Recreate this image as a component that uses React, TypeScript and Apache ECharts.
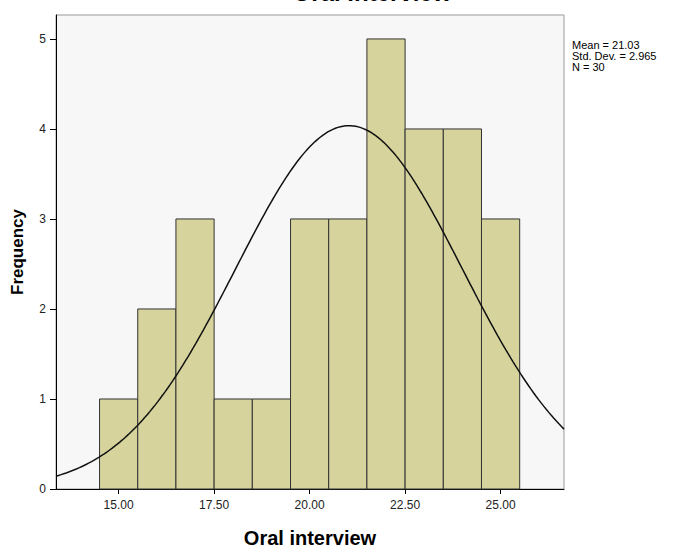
import React, { useEffect, useRef } from "react";
import * as echarts from "echarts";

const binStarts = [14.5, 15.5, 16.5, 17.5, 18.5, 19.5, 20.5, 21.5, 22.5, 23.5, 24.5];
const counts = [1, 2, 3, 1, 1, 3, 3, 5, 4, 4, 3];
const binWidth = 1;
const mean = 21.03;
const stdDev = 2.965;
const n = 30;
const xTicks = [15, 17.5, 20, 22.5, 25];
const yTicks = [0, 1, 2, 3, 4, 5];
const xMin = 13.36;
const xMax = 26.66;
const yMax = 5.266;

export default function App() {
  const ref = useRef<HTMLDivElement>(null);
  useEffect(() => {
    document.body.style.margin = "0";
    const chart = echarts.init(ref.current!, null, { renderer: "svg" });
    const barData = binStarts.map((s, i) => [s, s + binWidth, counts[i]]);
    const curve: number[][] = [];
    const steps = 200;
    for (let i = 0; i <= steps; i++) {
      const x = xMin + ((xMax - xMin) * i) / steps;
      const y =
        (n * binWidth) / (stdDev * Math.sqrt(2 * Math.PI)) *
        Math.exp(-((x - mean) ** 2) / (2 * stdDev * stdDev));
      curve.push([x, y]);
    }
    const font = "Liberation Sans";
    chart.setOption({
      animation: false,
      grid: {
        left: 56,
        right: 111,
        top: 15,
        bottom: 61,
        containLabel: false,
        outerBoundsMode: "none",
        show: true,
        backgroundColor: "#F7F7F7",
        borderColor: "#999999",
        borderWidth: 1,
      },
      xAxis: {
        type: "value",
        min: xMin,
        max: xMax,
        splitLine: { show: false },
        axisLine: { show: true, onZero: false, lineStyle: { color: "#000", width: 1 } },
        axisTick: { show: true, length: 5, lineStyle: { color: "#000" }, customValues: xTicks },
        axisLabel: {
          customValues: xTicks,
          formatter: (v: number) => v.toFixed(2),
          color: "#222",
          fontFamily: font,
          fontSize: 12,
          margin: 10,
        },
        name: "Oral interview",
        nameLocation: "middle",
        nameGap: 39,
        nameTextStyle: { fontFamily: font, fontSize: 20, fontWeight: "bold", color: "#000" },
      },
      yAxis: {
        type: "value",
        min: 0,
        max: yMax,
        splitLine: { show: false },
        axisLine: { show: true, lineStyle: { color: "#000", width: 1 } },
        axisTick: { show: true, length: 6, lineStyle: { color: "#000" }, customValues: yTicks },
        axisLabel: {
          customValues: yTicks,
          color: "#222",
          fontFamily: font,
          fontSize: 12,
          margin: 10,
        },
        name: "Frequency",
        nameLocation: "middle",
        nameGap: 30,
        nameTextStyle: { fontFamily: font, fontSize: 17, fontWeight: "bold", color: "#000" },
      },
      series: [
        {
          type: "custom",
          data: barData,
          renderItem: (params: any, api: any) => {
            const p0 = api.coord([api.value(0), 0]);
            const p1 = api.coord([api.value(1), api.value(2)]);
            return {
              type: "rect",
              shape: { x: p0[0], y: p1[1], width: p1[0] - p0[0], height: p0[1] - p1[1] },
              style: { fill: "#D6D39C", stroke: "#333333", lineWidth: 1 },
            };
          },
          z: 2,
        },
        {
          type: "line",
          data: curve,
          showSymbol: false,
          symbol: "none",
          smooth: false,
          lineStyle: { color: "#111", width: 1.5 },
          z: 3,
        },
      ],
      graphic: [
        {
          type: "text",
          left: 572,
          top: 39,
          style: {
            text: "Mean = 21.03\nStd. Dev. = 2.965\nN = 30",
            fontFamily: font,
            fontSize: 11,
            lineHeight: 11,
            fill: "#000",
          },
        },
        {
          type: "text",
          x: 372,
          y: -20,
          style: {
            text: "Oral interview",
            fontFamily: font,
            fontSize: 24,
            fontWeight: "bold",
            fill: "#000",
            align: "center",
            verticalAlign: "top",
          },
        },
      ],
    });
    return () => chart.dispose();
  }, []);
  return <div ref={ref} style={{ width: 675, height: 550 }} />;
}
